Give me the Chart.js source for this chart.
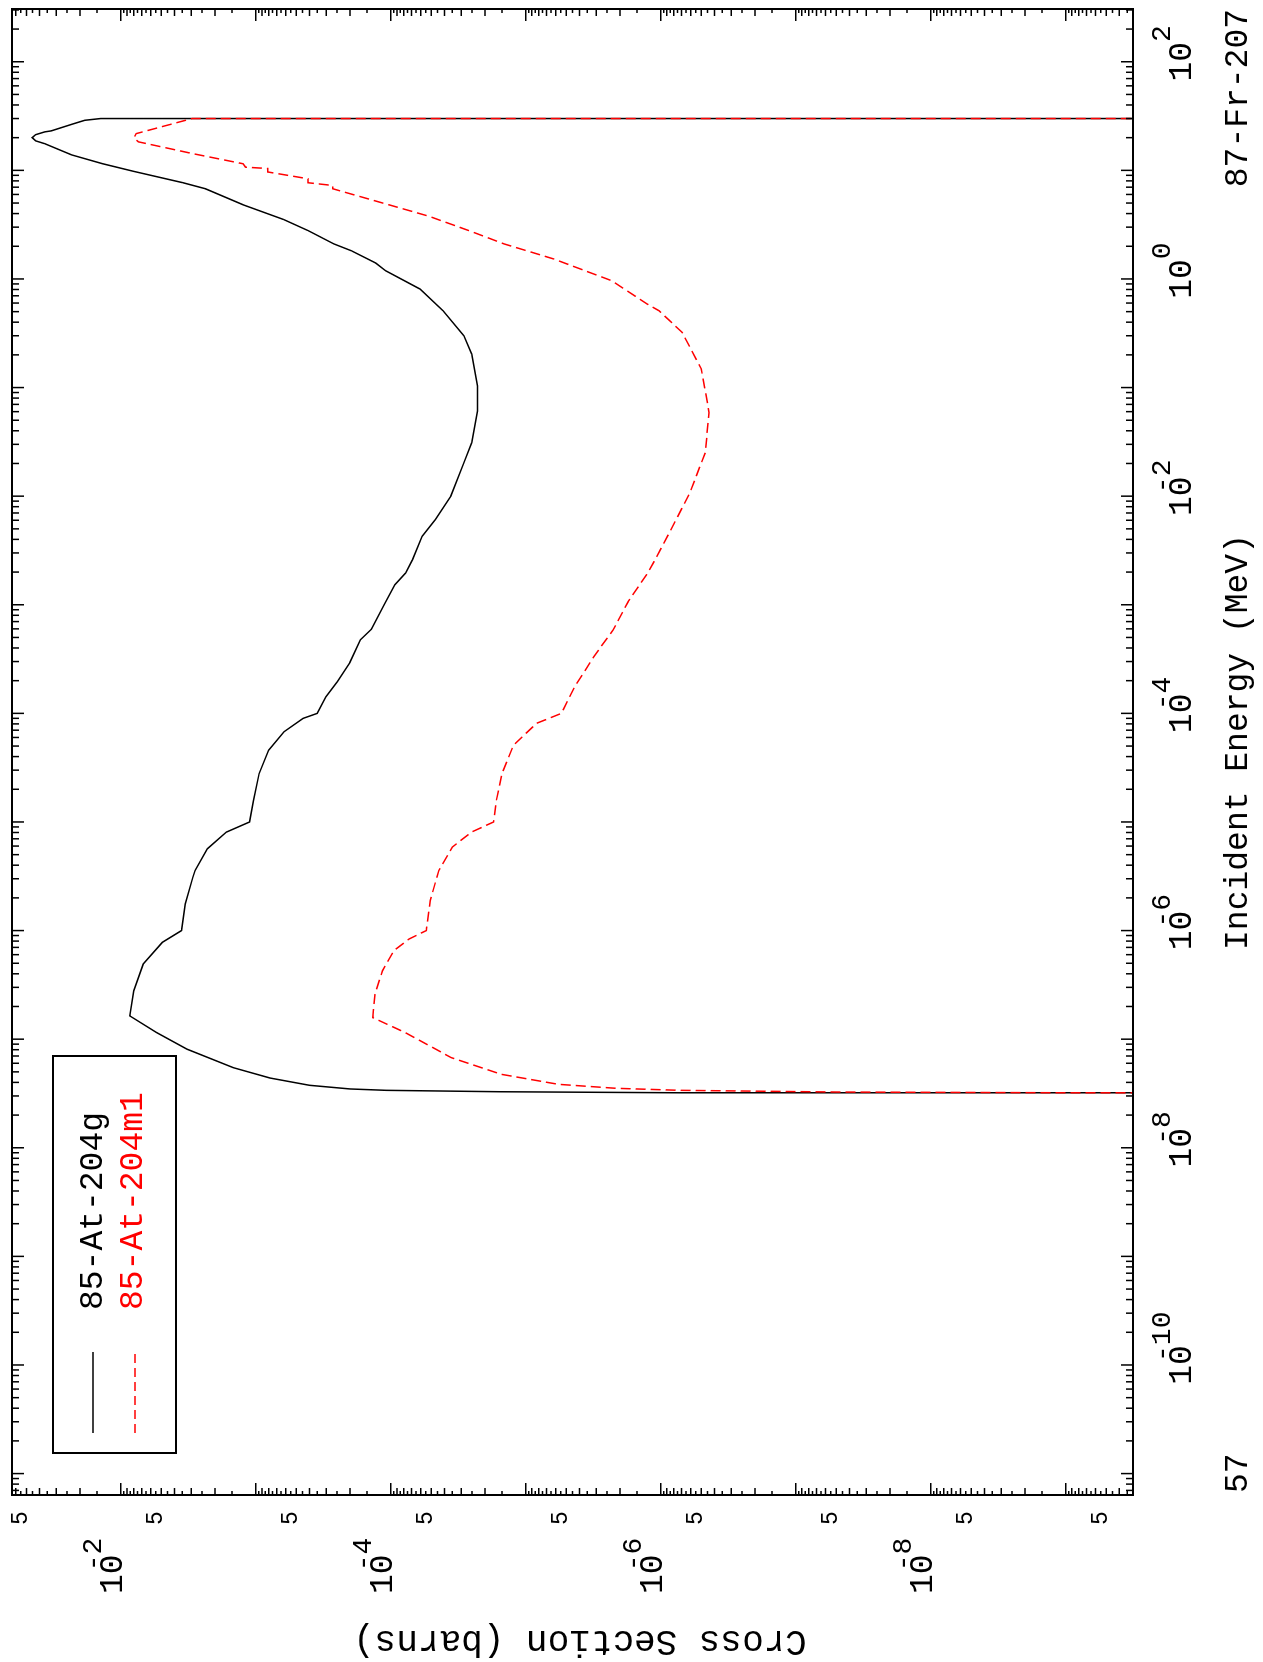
<!DOCTYPE html>
<html>
<head>
<meta charset="utf-8">
<title>87-Fr-207 activation cross sections</title>
<script src="https://cdn.jsdelivr.net/npm/chart.js@4.4.1/dist/chart.umd.min.js"></script>
<style>
  html, body { margin: 0; padding: 0; background: #fff; overflow: hidden; }
  body { width: 1263px; height: 1662px; position: relative; }
  /* the plot is drawn landscape and turned a quarter turn, like the original print */
  #plot { position: absolute; left: 0; top: 0; width: 1662px; height: 1263px;
          transform-origin: 0 0; transform: translateY(1662px) rotate(-90deg); }
  canvas { display: block; }
</style>
</head>
<body>
<div id="plot"><canvas id="chart" width="1662" height="1263"></canvas></div>
<script>
// incident energy (MeV) and cross section (barns)
const energyG = [3.20e-8, 3.21e-8, 3.28e-8, 3.38e-8, 3.48e-8, 3.76e-8, 4.39e-8, 5.47e-8, 8.08e-8,
  1.15e-7, 1.64e-7,
  2.79e-7, 4.92e-7, 7.79e-7, 1.0e-6, 1.76e-6, 3.10e-6, 3.58e-6, 5.67e-6, 8.07e-6, 1.0e-5,
  1.58e-5, 2.79e-5, 4.58e-5, 6.76e-5, 8.99e-5, 1.0e-4, 1.42e-4, 1.96e-4, 2.93e-4, 4.75e-4,
  5.96e-4, 1.0e-3, 1.53e-3, 1.96e-3, 2.6e-3, 4.27e-3, 6.09e-3, 1.0e-2, 2.03e-2, 3.11e-2,
  6.08e-2, 0.1035, 0.203, 0.300, 0.510, 0.808, 1.19, 1.40, 1.82, 2.10, 2.79, 3.53, 4.82,
  6.77, 7.69, 9.78, 11.5, 13.9, 17.6, 18.7, 20.0, 21.3, 22.6, 23.1, 26.5, 28.9, 30.0, 30.0];
const sigmaG = [1e-12, 7.2e-7, 1.52e-5, 1.08e-4, 2.0e-4, 3.99e-4, 7.84e-4, 1.47e-3, 3.22e-3,
  5.43e-3, 8.58e-3,
  8.02e-3, 6.82e-3, 4.92e-3, 3.55e-3, 3.33e-3, 2.92e-3, 2.81e-3, 2.28e-3, 1.65e-3, 1.11e-3,
  1.04e-3, 9.44e-4, 8.02e-4, 6.18e-4, 4.46e-4, 3.50e-4, 3.02e-4, 2.48e-4, 2.01e-4, 1.68e-4,
  1.39e-4, 1.12e-4, 9.31e-5, 7.76e-5, 6.90e-5, 5.86e-5, 4.67e-5, 3.59e-5, 2.87e-5, 2.51e-5,
  2.28e-5, 2.28e-5, 2.51e-5, 2.87e-5, 4.10e-5, 6.07e-5, 1.09e-4, 1.29e-4, 1.96e-4, 2.63e-4,
  4.10e-4, 6.22e-4, 1.24e-3, 2.36e-3, 3.46e-3, 7.99e-3, 1.36e-2, 2.32e-2, 3.66e-2, 4.27e-2,
  4.53e-2, 4.27e-2, 3.66e-2, 3.27e-2, 2.32e-2, 1.85e-2, 1.41e-2, 1e-12];

const energyM = [3.20e-8, 3.21e-8, 3.26e-8, 3.38e-8, 3.53e-8, 3.84e-8, 4.75e-8, 6.76e-8, 1.15e-7,
  1.58e-7, 2.60e-7, 4.27e-7, 6.53e-7, 8.37e-7, 1.0e-6, 1.89e-6, 3.58e-6, 5.87e-6, 8.07e-6,
  1.0e-5, 1.58e-5, 2.79e-5, 5.10e-5, 8.09e-5, 1.0e-4, 1.76e-4, 3.33e-4, 5.87e-4, 1.07e-3,
  1.96e-3, 2.6e-3, 5.67e-3, 1.07e-2, 2.51e-2, 5.88e-2, 0.148, 0.322, 0.510, 0.588, 0.964,
  1.53, 2.10, 2.79, 3.79, 5.10, 6.77, 7.26, 7.69, 8.37, 9.66, 10.4, 10.7, 11.5, 14.3, 18.3,
  20.0, 21.8, 30.0, 30.0];
const sigmaM = [1e-12, 1e-9, 5e-8, 7.2e-7, 2.15e-6, 5.73e-6, 1.52e-5, 3.56e-5, 7.80e-5,
  1.36e-4, 1.31e-4, 1.15e-4, 9.48e-5, 7.31e-5, 5.45e-5, 5.10e-5, 4.40e-5, 3.50e-5, 2.52e-5,
  1.73e-5, 1.65e-5, 1.50e-5, 1.23e-5, 8.32e-6, 5.44e-6, 4.33e-6, 3.13e-6, 2.25e-6, 1.74e-6,
  1.25e-6, 1.10e-6, 7.91e-7, 6.09e-7, 4.68e-7, 4.38e-7, 5.00e-7, 6.93e-7, 1.03e-6, 1.26e-6,
  2.31e-6, 6.22e-6, 1.44e-5, 2.64e-5, 5.25e-5, 1.21e-4, 2.69e-4, 2.69e-4, 4.10e-4, 4.10e-4,
  8.14e-4, 8.14e-4, 1.19e-3, 1.24e-3, 2.96e-3, 7.39e-3, 7.99e-3, 7.68e-3, 2.96e-3, 1e-12];

const seriesNames = ['85-At-204g', '85-At-204m1'];
const energyLabelExps = [-10, -8, -6, -4, -2, 0, 2];
const sigmaLabelExps = [-2, -4, -6, -8];
const sigmaFives = [5e-2, 5e-3, 5e-4, 5e-5, 5e-6, 5e-7, 5e-8, 5e-9, 5e-10];
const xTitle = 'Incident Energy (MeV)';
const yTitle = 'Cross Section (barns)';
const targetLabel = '87-Fr-207';
const cornerLabel = '57';

const MONO = '"Liberation Mono", "DejaVu Sans Mono", monospace';

function toPoints(xs, ys) {
  return xs.map((e, i) => ({ x: e, y: ys[i] }));
}

// "10" followed by a raised exponent, minus sign tucked over the zero
function drawPower(ctx, exp, xLeft, baseline) {
  ctx.font = '33px ' + MONO;
  ctx.textAlign = 'left';
  ctx.fillText('10', xLeft, baseline);
  const ex = xLeft + ctx.measureText('10').width;
  const eb = baseline - 21;
  ctx.font = '28px ' + MONO;
  if (exp < 0) ctx.fillText('-', ex - ctx.measureText('-').width, eb);
  ctx.fillText(String(Math.abs(exp)), ex, eb);
}

const framePlugin = {
  id: 'frame',
  afterDatasetsDraw(chart) {
    const { ctx, chartArea: a } = chart;
    const xs = chart.scales.x, ys = chart.scales.y;
    ctx.save();
    ctx.strokeStyle = '#000';
    ctx.fillStyle = '#000';

    // inward ticks on all four sides
    ctx.lineWidth = 1.5;
    ctx.beginPath();
    for (let n = -12; n <= 2; n++) {
      for (let k = 1; k <= 9; k++) {
        const v = k * Math.pow(10, n);
        if (v < xs.min || v > xs.max) continue;
        const px = xs.getPixelForValue(v);
        const len = k === 1 ? 12 : 7;
        ctx.moveTo(px, a.bottom); ctx.lineTo(px, a.bottom - len);
        ctx.moveTo(px, a.top); ctx.lineTo(px, a.top + len);
      }
    }
    for (let n = -11; n <= -1; n++) {
      for (let k = 1; k <= 9.5; k += 0.5) {
        const v = k * Math.pow(10, n);
        if (v < ys.min || v > ys.max) continue;
        const py = ys.getPixelForValue(v);
        const len = k === 1 ? 12 : (Number.isInteger(k) ? 7 : 4);
        ctx.moveTo(a.left, py); ctx.lineTo(a.left + len, py);
        ctx.moveTo(a.right, py); ctx.lineTo(a.right - len, py);
      }
    }
    ctx.stroke();

    ctx.lineWidth = 2;
    ctx.strokeRect(a.left, a.top, a.right - a.left, a.bottom - a.top);

    // tick labels
    ctx.textBaseline = 'alphabetic';
    ctx.font = '33px ' + MONO;
    const w10 = ctx.measureText('10').width;
    energyLabelExps.forEach(p => {
      const px = xs.getPixelForValue(Math.pow(10, p));
      drawPower(ctx, p, px - w10 / 2, a.bottom + 58);
    });
    sigmaLabelExps.forEach(p => {
      const py = ys.getPixelForValue(Math.pow(10, p));
      drawPower(ctx, p, a.left - 99, py + 1);
    });
    ctx.font = '23px ' + MONO;
    ctx.textAlign = 'left';
    sigmaFives.forEach(v => {
      ctx.fillText('5', a.left - 30, ys.getPixelForValue(v) + 1);
    });

    // titles
    ctx.font = '33px ' + MONO;
    ctx.textAlign = 'center';
    ctx.fillText(xTitle, 920, a.bottom + 114);
    ctx.textAlign = 'right';
    ctx.fillText(targetLabel, a.right, a.bottom + 114);
    ctx.textAlign = 'left';
    ctx.fillText(cornerLabel, a.left + 2, a.bottom + 114);

    ctx.save();
    ctx.translate(31, 580);
    ctx.rotate(-Math.PI / 2);
    ctx.font = '36px ' + MONO;
    ctx.textAlign = 'center';
    ctx.fillText(yTitle, 0, 0);
    ctx.restore();

    // legend
    const lx = 209, ly = 53;
    ctx.lineWidth = 2;
    ctx.strokeRect(lx, ly, 397, 123);
    const rows = [
      { y: 93, color: '#000000', dash: [] },
      { y: 135, color: '#ff0000', dash: [9, 5] }
    ];
    ctx.font = '33px ' + MONO;
    ctx.textAlign = 'left';
    rows.forEach((r, i) => {
      ctx.strokeStyle = r.color;
      ctx.lineWidth = 1.5;
      ctx.setLineDash(r.dash);
      ctx.beginPath();
      ctx.moveTo(lx + 20, r.y);
      ctx.lineTo(lx + 101, r.y);
      ctx.stroke();
      ctx.setLineDash([]);
      ctx.fillStyle = r.color;
      ctx.fillText(seriesNames[i], lx + 143, r.y + (i === 0 ? 9 : 7));
    });
    ctx.restore();
  }
};

new Chart(document.getElementById('chart'), {
  type: 'scatter',
  data: {
    datasets: [
      {
        label: seriesNames[0],
        data: toPoints(energyG, sigmaG),
        showLine: true,
        borderColor: '#000000',
        borderWidth: 1.5,
        pointRadius: 0,
        order: 2
      },
      {
        label: seriesNames[1],
        data: toPoints(energyM, sigmaM),
        showLine: true,
        borderColor: '#ff0000',
        borderWidth: 1.5,
        borderDash: [10, 5],
        pointRadius: 0,
        order: 1
      }
    ]
  },
  options: {
    responsive: false,
    animation: false,
    devicePixelRatio: 1,
    layout: { padding: { left: 167, right: 9, top: 12, bottom: 130 } },
    plugins: { legend: { display: false }, tooltip: { enabled: false } },
    scales: {
      x: { type: 'logarithmic', min: 6.35e-12, max: 306, display: false },
      y: { type: 'logarithmic', min: 3.17e-10, max: 6.39e-2, display: false }
    }
  },
  plugins: [framePlugin]
});
</script>
</body>
</html>
